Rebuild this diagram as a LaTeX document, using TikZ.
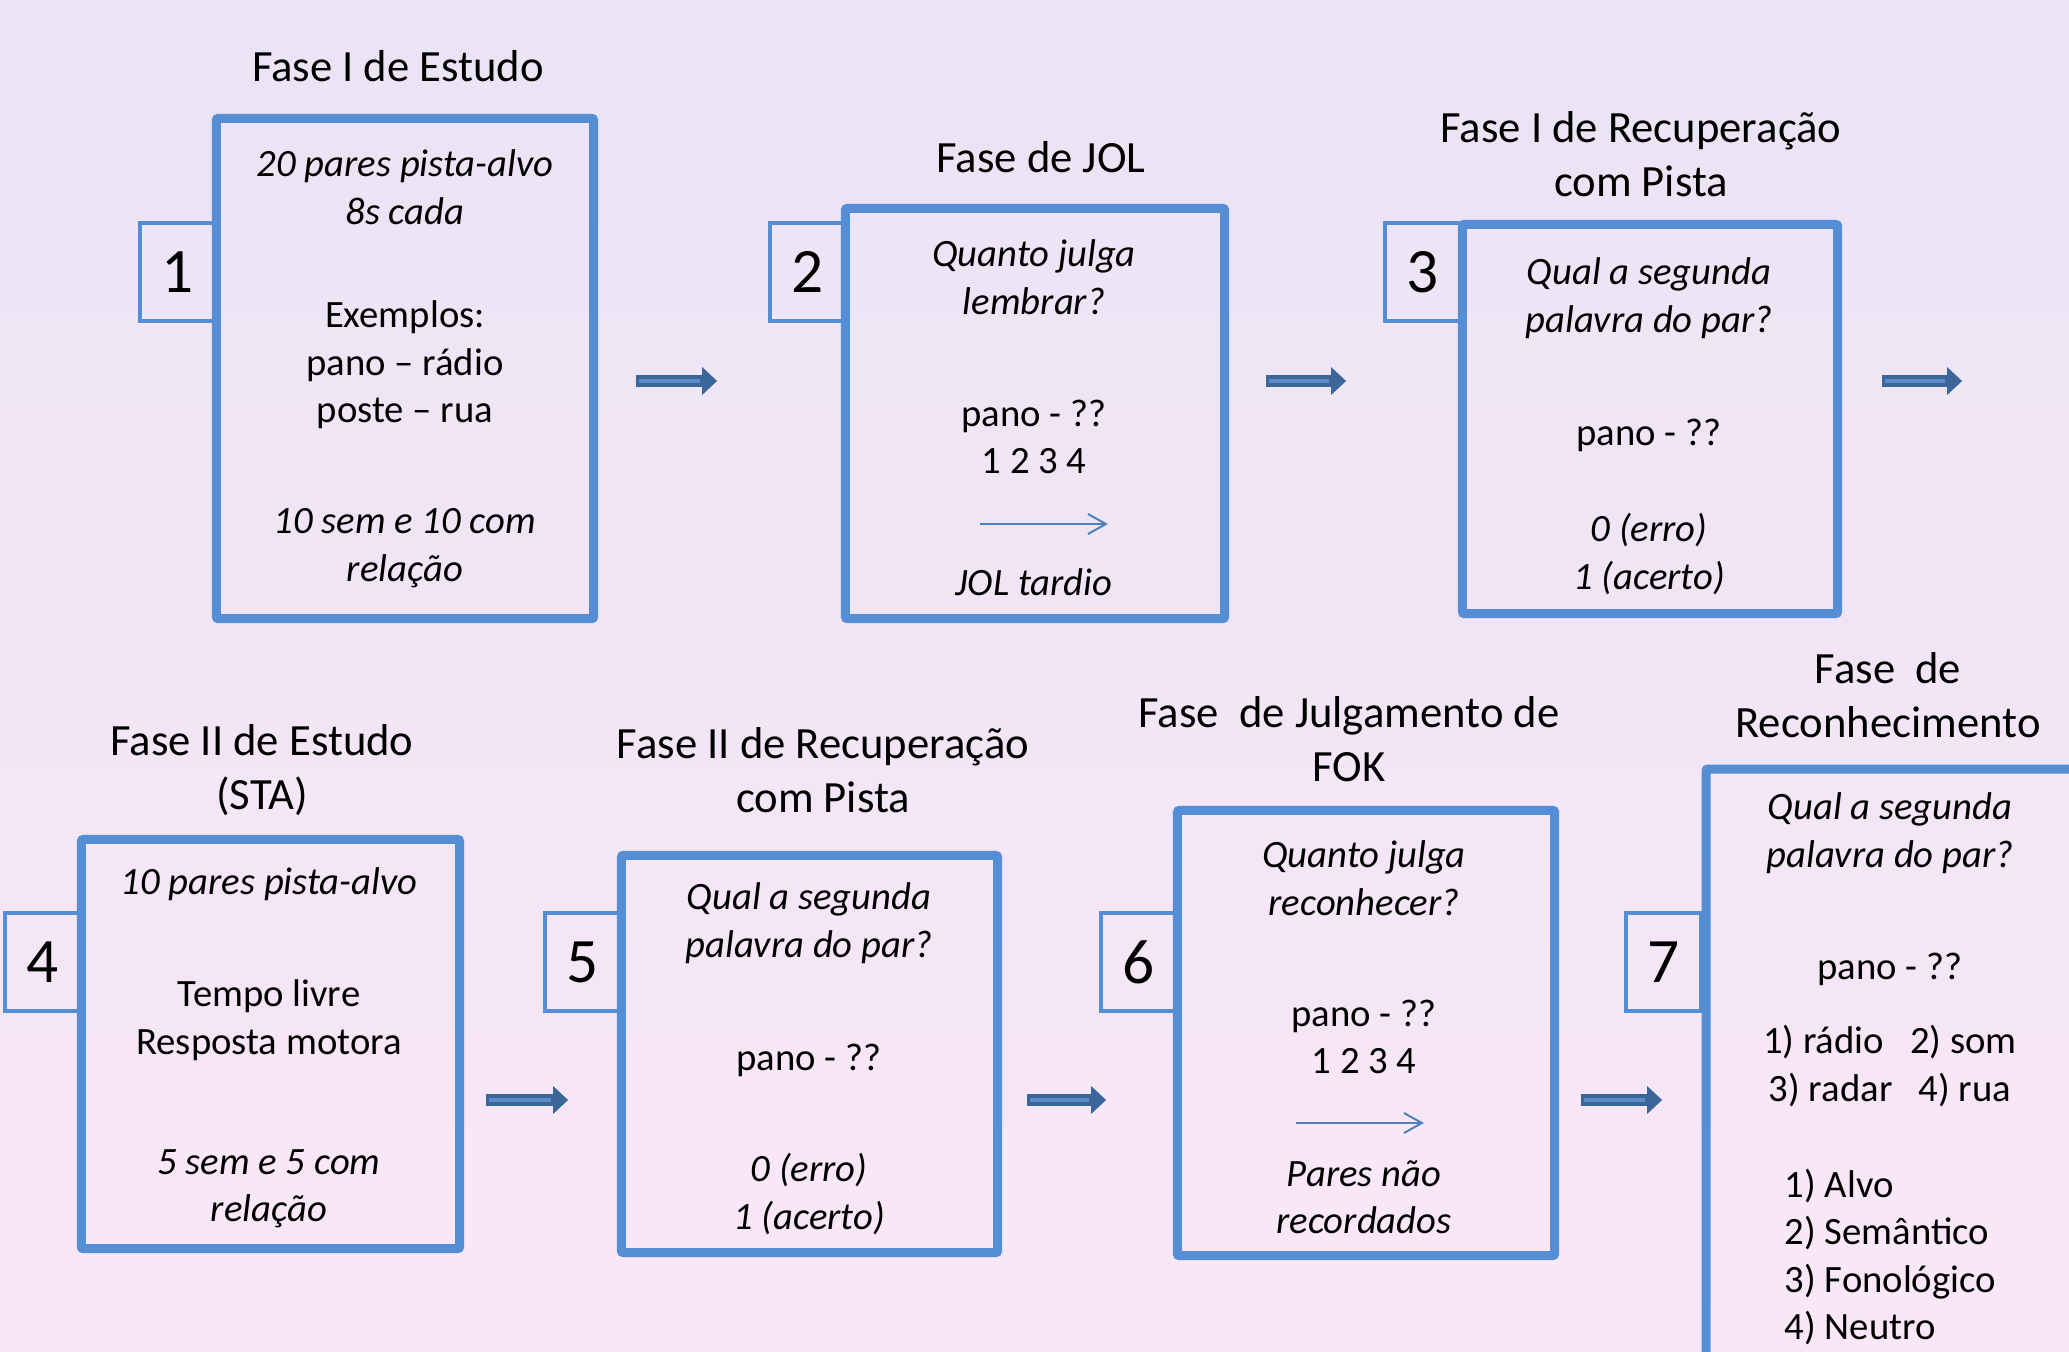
\documentclass[tikz,border=0pt]{standalone}
\usepackage{fontspec}
\setmainfont{Carlito}
\usetikzlibrary{arrows.meta}
\definecolor{bgtop}{HTML}{EAE4F4}
\definecolor{bgbot}{HTML}{F9E7F7}
\definecolor{framecol}{HTML}{558ED5}
\definecolor{flowcol}{HTML}{3A6699}
\definecolor{flowlight}{HTML}{5B8BC8}
\definecolor{pointcol}{HTML}{4F81BD}

\begin{document}
\begin{tikzpicture}[x=0.01cm,y=-0.01cm,
    phase/.style={draw=framecol,line width=0.09cm,rounded corners=0.02cm,inner sep=0pt},
    numbox/.style={draw=framecol,line width=0.04cm,minimum width=0.75cm,minimum height=0.98cm,inner sep=0pt,font=\fontsize{18}{20}\selectfont},
    title/.style={align=center,font=\fontsize{12.7}{15.4}\selectfont},
    txt/.style={align=center,font=\fontsize{11}{13.5}\selectfont},
    ask/.style={align=center,font=\fontsize{11}{13.5}\selectfont\itshape},
    flow/.style={draw=flowcol,line width=0.12cm,-{Triangle[length=0.15cm,width=0.27cm]},
      postaction={draw=flowlight,line width=0.035cm,-,shorten >=0.17cm,shorten <=0.03cm}},
    pointer/.style={draw=pointcol,line width=0.02cm,-{Straight Barb[length=0.18cm,width=0.2cm]}}]

\useasboundingbox (0,0) rectangle (2069,1351);
\clip (0,0) rectangle (2069,1351);
\fill[top color=bgtop,bottom color=bgbot] (0,0) rectangle (2069,1351);

\node[title] (t1) at (398,66) {Fase I de Estudo};
\node[title] (t2) at (1041,157) {Fase de JOL};
\node[title] (t3) at (1641,154) {Fase I de Recuperação\\com Pista};
\node[title] (t4) at (262,770) {Fase II de Estudo\\(STA)};
\node[title] (t5) at (823,770) {Fase II de Recuperação\\com Pista};
\node[title] (t6) at (1349,739) {Fase\ \ de Julgamento de\\FOK};
\node[title] (t7) at (1888,695) {Fase\ \ de\\Reconhecimento};

\node[numbox] (n1) at (177.5,272) {1};
\node[numbox] (n2) at (807.5,272) {2};
\node[numbox] (n3) at (1423,272) {3};
\node[numbox] (n4) at (42.5,962) {4};
\node[numbox] (n5) at (583,962) {5};
\node[numbox] (n6) at (1139,962) {6};
\node[numbox] (n7) at (1663.5,962) {7};

\node[phase,minimum width=3.77cm,minimum height=5.00cm] (b1) at (405,368.5) {};
\node[phase,minimum width=3.79cm,minimum height=4.10cm] (b2) at (1035,413.5) {};
\node[phase,minimum width=3.75cm,minimum height=3.89cm] (b3) at (1650,419) {};
\node[phase,minimum width=3.78cm,minimum height=4.09cm] (b4) at (270.5,1044) {};
\node[phase,minimum width=3.76cm,minimum height=3.97cm] (b5) at (809.5,1054) {};
\node[phase,minimum width=3.77cm,minimum height=4.45cm] (b6) at (1366,1033) {};
\node[phase,anchor=north west,minimum width=5cm,minimum height=7cm] (b7) at (1701.5,764.5) {};

\node[ask] (a1) at (405,187) {20 pares pista-alvo\\8s cada};
\node[txt] (e1) at (405,365) {Exemplos:\\pano -- rádio\\poste -- rua};
\node[ask] (r1) at (405,548) {10 sem e 10 com\\relação};

\node[ask] (a2) at (1034,277) {Quanto julga\\lembrar?};
\node[txt] (e2) at (1034,437) {pano - ??\\1 2 3 4};
\coordinate (p2a) at (980,524);
\coordinate (p2b) at (1108,524);
\node[ask] (r2) at (1034,582) {JOL tardio};

\node[ask] (a3) at (1649,298) {Qual a segunda\\palavra do par?};
\node[txt] (e3) at (1649,435) {pano - ??};
\node[ask] (r3) at (1649,554) {0 (erro)\\1 (acerto)};

\node[ask] (a4) at (269,884) {10 pares pista-alvo};
\node[txt] (e4) at (269,1020) {Tempo livre\\Resposta motora};
\node[ask] (r4) at (269,1189) {5 sem e 5 com\\relação};

\node[ask] (a5) at (809,923) {Qual a segunda\\palavra do par?};
\node[txt] (e5) at (809,1060) {pano - ??};
\node[ask] (r5) at (809,1194) {0 (erro)\\1 (acerto)};

\node[ask] (a6) at (1364,878) {Quanto julga\\reconhecer?};
\node[txt] (e6) at (1364,1037) {pano - ??\\1 2 3 4};
\coordinate (p6a) at (1296,1123);
\coordinate (p6b) at (1424,1123);
\node[ask] (r6) at (1364,1197) {Pares não\\recordados};

\node[ask] (a7) at (1890,833) {Qual a segunda\\palavra do par?};
\node[txt] (e7) at (1890,969) {pano - ??};
\node[txt] (o7) at (1890,1066) {1) rádio\ \ \ 2) som\\3) radar\ \ \ 4) rua};
\node[txt,align=left,anchor=west,inner sep=0pt] (l7) at (1784,1257) {1) Alvo\\2) Semântico\\3) Fonológico\\4) Neutro};

\draw[pointer] (p2a) -- (p2b);
\draw[pointer] (p6a) -- (p6b);

\draw[flow] (b1.east) ++(38,12.5) -- ++(81,0);
\draw[flow] (b2.east) ++(37,-32.5) -- ++(80,0);
\draw[flow] (b3.east) ++(40,-38) -- ++(80,0);
\draw[flow] (b4.east) ++(22,56) -- ++(82,0);
\draw[flow] (b5.east) ++(25,46) -- ++(79,0);
\draw[flow] (b6.east) ++(22,67) -- ++(81,0);
\end{tikzpicture}
\end{document}
